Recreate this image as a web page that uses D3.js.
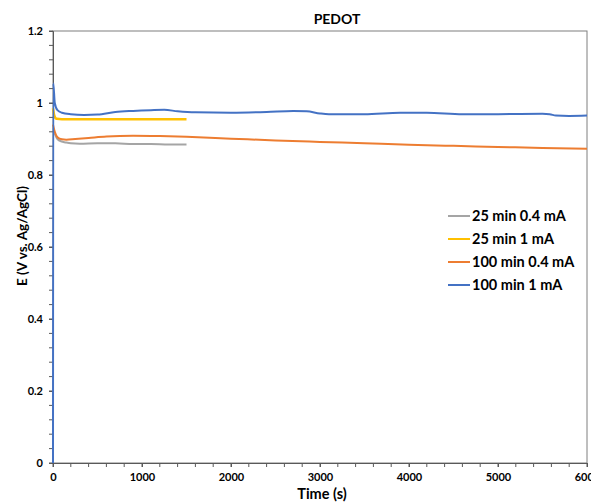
<!DOCTYPE html>
<html>
<head>
<meta charset="utf-8">
<script src="https://cdn.jsdelivr.net/npm/d3@7"></script>
<style>
  body { margin: 0; background: #fff; }
  text { font-family: Lato, "Open Sans", sans-serif; font-weight: bold; fill: #000; }
</style>
</head>
<body>
<svg id="chart"></svg>
<script>
// series data (time in s, E in V)
const grayT = [0, 20, 50, 100, 150, 200, 300, 500, 700, 900, 1100, 1300, 1500];
const grayE = [0.93, 0.915, 0.9, 0.893, 0.89, 0.888, 0.887, 0.888, 0.888, 0.886, 0.886, 0.885, 0.885];

const yellowT = [0, 15, 40, 100, 500, 1000, 1500];
const yellowE = [0.985, 0.965, 0.956, 0.955, 0.955, 0.955, 0.955];

const orangeT = [0, 20, 50, 100, 150, 250, 400, 600, 900, 1200, 1500, 2000, 2500, 3000, 3500, 4000, 4500, 5000, 5500, 6000];
const orangeE = [0.94, 0.92, 0.905, 0.899, 0.898, 0.9, 0.903, 0.907, 0.909, 0.908, 0.906, 0.901, 0.896, 0.892, 0.888, 0.884, 0.881, 0.878, 0.875, 0.873];

const blueT = [0, 3, 20, 50, 100, 200, 350, 500, 700, 900, 1100, 1250, 1400, 1600, 2000, 2400, 2700, 2850, 3000, 3100, 3500, 3900, 4200, 4600, 5000, 5500, 5580, 5650, 5800, 6000];
const blueE = [0, 1.055, 1.0, 0.98, 0.973, 0.969, 0.967, 0.968, 0.975, 0.978, 0.980, 0.981, 0.977, 0.974, 0.973, 0.975, 0.978, 0.977, 0.971, 0.969, 0.969, 0.973, 0.973, 0.969, 0.969, 0.970, 0.969, 0.965, 0.964, 0.965];

const seriesNames = ["25 min 0.4 mA", "25 min 1 mA", "100 min 0.4 mA", "100 min 1 mA"];
const xTicks = [0, 1000, 2000, 3000, 4000, 5000, 6000];
const yTicks = [0, 0.2, 0.4, 0.6, 0.8, 1, 1.2];

const width = 591, height = 502;
const margin = { top: 31, right: 4, bottom: 39, left: 53 };
const plotW = width - margin.left - margin.right;
const plotH = height - margin.top - margin.bottom;

const series = [
    { name: seriesNames[0], t: grayT, e: grayE, color: "#a5a5a5", w: 2 },
    { name: seriesNames[1], t: yellowT, e: yellowE, color: "#ffc000", w: 2.5 },
    { name: seriesNames[2], t: orangeT, e: orangeE, color: "#ed7d31", w: 2 },
    { name: seriesNames[3], t: blueT, e: blueE, color: "#4472c4", w: 2 }
];

const svg = d3.select("#chart").attr("width", width).attr("height", height);

const x = d3.scaleLinear().domain([0, 6000]).range([0, plotW]);
const y = d3.scaleLinear().domain([0, 1.2]).range([plotH, 0]);

const g = svg.append("g").attr("transform", `translate(${margin.left},${margin.top})`);

// plot border
g.append("rect")
    .attr("width", plotW).attr("height", plotH)
    .attr("fill", "none").attr("stroke", "#7f7f7f").attr("stroke-width", 1);

// minor ticks
const yMinor = d3.range(0, 1.2001, 0.04);
const xMinor = d3.range(0, 6001, 200);
g.append("g").selectAll("line").data(yMinor).join("line")
    .attr("x1", -4).attr("x2", 0)
    .attr("y1", d => y(d)).attr("y2", d => y(d))
    .attr("stroke", "#595959");
g.append("g").selectAll("line").data(xMinor).join("line")
    .attr("x1", d => x(d)).attr("x2", d => x(d))
    .attr("y1", plotH).attr("y2", plotH + 4)
    .attr("stroke", "#595959");

// axes
const xAxis = g.append("g").attr("transform", `translate(0,${plotH})`)
    .call(d3.axisBottom(x).tickValues(xTicks).tickSize(4).tickPadding(6).tickFormat(d3.format("d")));
const yAxis = g.append("g")
    .call(d3.axisLeft(y).tickValues(yTicks).tickSize(4).tickPadding(6).tickFormat(d => d3.format("")(+d.toFixed(1))));
[xAxis, yAxis].forEach(a => {
    a.select(".domain").attr("stroke", "#595959");
    a.selectAll(".tick line").attr("stroke", "#595959");
    a.selectAll("text").attr("font-size", 11).attr("font-family", "Lato, sans-serif").attr("font-weight", "bold");
});

// lines
const line = d3.line().curve(d3.curveMonotoneX);
series.forEach(s => {
    g.append("path")
        .attr("d", line(s.t.map((t, i) => [x(t), y(s.e[i])])))
        .attr("fill", "none")
        .attr("stroke", s.color)
        .attr("stroke-width", s.w)
        .attr("stroke-linejoin", "round");
});

// title and axis labels
svg.append("text").attr("x", 337).attr("y", 24).attr("text-anchor", "middle")
    .attr("font-size", 14).text("PEDOT");
svg.append("text").attr("x", 322).attr("y", 499).attr("text-anchor", "middle")
    .attr("font-size", 14.5).text("Time (s)");
svg.append("text").attr("transform", "translate(27,236) rotate(-90)").attr("text-anchor", "middle")
    .attr("font-size", 13.5).text("E (V vs. Ag/AgCl)");

// legend
const legend = svg.append("g").attr("transform", "translate(448,216)");
series.forEach((s, i) => {
    const row = legend.append("g").attr("transform", `translate(0,${i * 23})`);
    row.append("line").attr("x1", 0).attr("x2", 22).attr("stroke", s.color).attr("stroke-width", 2);
    row.append("text").attr("x", 24).attr("dy", "0.35em").attr("font-size", 14.5).text(s.name);
});
</script>
</body>
</html>
